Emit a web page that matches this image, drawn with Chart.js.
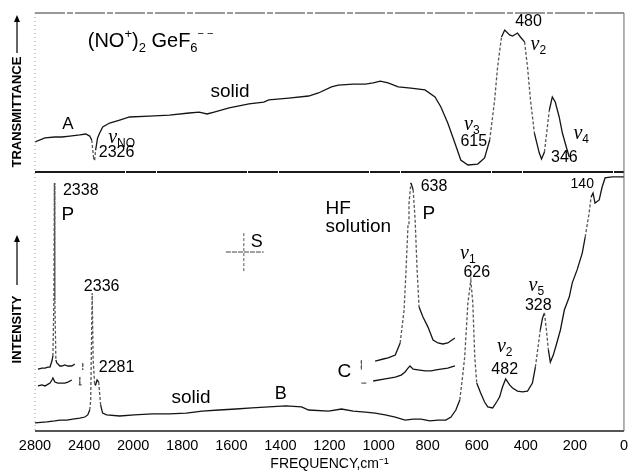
<!DOCTYPE html>
<html>
<head>
<meta charset="utf-8">
<script src="https://cdn.jsdelivr.net/npm/chart.js@4.4.1/dist/chart.umd.min.js"></script>
<style>
  html, body { margin: 0; padding: 0; background: #fff; }
  #wrap { width: 634px; height: 475px; }
</style>
</head>
<body>
<div id="wrap"><canvas id="spectrum" width="634" height="475"></canvas></div>
<script>
// tick positions on the recorder chart (2800-2000 is drawn at half scale)
const tickFreqs = [2800, 2400, 2000, 1800, 1600, 1400, 1200, 1000, 800, 600, 400, 200, 0];

// A: infrared transmittance of the solid
const irFreq = [2800,2719,2638,2581,2516,2435,2386,2354,2338,2322,2314,2306,2290,2273,2248,2192,2110,2030,1934,1853,1772,1731,1699,1670,1609,1528,1468,1447,1366,1285,1245,1192,1164,1103,1054,1022,993,961,920,868,811,770,746,718,689,665,636,596,568,547,527,515,499,486,466,454,434,422,405,393,381,365,345,336,324,304,292,280,264,251,235,223];
const irT = [18.9,21.4,22.0,22.0,22.6,23.3,23.9,22.6,20.1,8.8,7.5,13.8,21.4,24.5,28.3,30.8,32.7,34.6,35.2,35.8,37.1,37.7,36.5,37.7,40.3,42.8,44.0,45.3,46.5,47.8,49.7,53.5,54.7,55.3,55.3,56.0,57.2,56.0,53.5,52.8,51.6,47.2,40.9,30.8,18.2,7.5,4.4,5.0,8.8,20.1,45.3,66.0,84.9,89.3,86.2,85.5,87.4,84.9,81.8,66.0,45.3,24.5,11.9,8.2,12.6,39.0,47.2,44.0,34.6,24.5,15.7,9.4];

// B: Raman of the solid
const ramFreq = [2800,2703,2638,2597,2540,2492,2435,2394,2370,2354,2346,2334,2326,2314,2306,2294,2281,2265,2249,2216,2110,1995,1922,1853,1784,1719,1650,1581,1516,1447,1378,1314,1285,1204,1151,1103,1054,1014,973,932,892,859,827,791,758,726,705,685,669,657,649,636,624,616,608,600,584,568,555,535,519,507,495,482,466,454,434,414,393,373,361,349,341,332,324,316,308,300,288,276,259,243,223,211,191,170,158,142,134,126,118,101,89,77,49,0];
const ramI = [3.1,3.5,3.9,4.2,4.2,4.6,5.0,5.4,6.2,8.1,12.0,53.3,27.4,18.1,17.8,19.7,18.9,10.0,6.9,6.2,5.8,6.2,6.6,6.6,6.9,7.7,8.1,8.5,8.9,9.3,9.7,9.3,8.1,7.7,8.5,7.7,7.3,6.9,6.2,5.4,4.2,4.6,4.6,3.9,4.2,4.2,5.4,8.1,12.0,21.6,28.6,49.4,58.3,49.4,28.6,18.5,14.7,11.2,9.3,8.9,11.2,13.1,17.0,20.1,17.8,16.6,15.4,15.1,15.4,18.5,24.7,33.2,39.0,43.6,45.6,39.0,31.3,26.6,29.3,33.2,39.0,46.7,51.7,57.1,62.2,68.7,74.9,84.2,90.3,91.9,88.0,89.2,94.2,97.7,98.1,98.1];

// NO+ stretch inset, parallel (P) and perpendicular traces (pen offset positions)
const noParFreq = [2776,2743,2719,2695,2678,2662,2654,2646,2642,2638,2630,2622,2597,2581,2557,2532,2500,2476];
const noParI = [23.9,24.3,24.3,24.7,24.7,27.0,29.0,50.6,95.8,50.6,27.4,26.3,25.1,25.1,25.5,25.1,25.1,25.9];
const noPerFreq = [2776,2743,2719,2703,2678,2662,2654,2646,2638,2614,2581,2557,2532,2500];
const noPerI = [17.4,17.8,17.4,17.8,18.5,19.7,20.5,19.7,18.9,18.5,18.5,18.5,18.9,19.7];

// C: HF solution inset (pen offset positions)
const hfParFreq = [1014,981,961,932,912,896,888,880,876,868,859,851,843,835,819,799,778,758,738,718,689];
const hfParI = [27.0,27.8,28.2,29.3,34.0,46.7,62.2,79.5,88.0,95.8,93.1,81.5,62.2,47.9,44.0,40.2,35.1,34.0,33.6,34.0,35.9];
const hfPerFreq = [1022,973,932,908,892,880,872,859,839,811,786,766,746,718,689];
const hfPerI = [19.3,20.1,20.8,21.6,22.8,24.3,25.1,23.9,23.6,23.2,23.2,23.6,23.9,24.3,25.1];

// pen zero marks and the S sensitivity cross
const penMarks = [
  [[2411, 26.3], [2411, 23.6]],
  [[2435, 20.8], [2435, 17.8]],
  [[2443, 17.8], [2419, 17.8]],
  [[1070, 27.4], [1070, 23.6]],
  [[1070, 18.5], [1050, 18.5]]
];
const sCross = [
  [[1622, 69.1], [1468, 69.1]],
  [[1549, 76.4], [1549, 61.4]]
];

function pos(f) { return f > 2000 ? 2000 + (f - 2000) / 2 : f; }
function freqAt(p) { return p > 2000 ? 2000 + (p - 2000) * 2 : p; }

function pts(freqs, vals) { return freqs.map((f, i) => ({ x: pos(f), y: vals[i] })); }
function segs(list) {
  const out = [];
  list.forEach(s => {
    s.forEach(p => out.push({ x: pos(p[0]), y: p[1] }));
    out.push({ x: pos(s[1][0]), y: null });
  });
  return out;
}

const steep = c => Math.abs(c.p1.y - c.p0.y) > 4 * Math.abs(c.p1.x - c.p0.x) + 6;

function trace(data, axis, extra) {
  return Object.assign({
    data: data, yAxisID: axis, borderColor: '#141414', borderWidth: 1.3,
    pointRadius: 0, fill: false, tension: 0, spanGaps: false,
    segment: {
      borderDash: c => steep(c) ? [3, 2] : undefined,
      borderColor: c => steep(c) ? '#555' : undefined
    }
  }, extra || {});
}

const FONT = 'Liberation Sans';

function line(ctx, x1, y1, x2, y2, color, w, dash) {
  ctx.beginPath();
  ctx.strokeStyle = color; ctx.lineWidth = w; ctx.setLineDash(dash || []);
  ctx.moveTo(x1, y1); ctx.lineTo(x2, y2); ctx.stroke();
  ctx.setLineDash([]);
}

function text(ctx, s, x, y, size, align) {
  ctx.font = size + 'px "' + FONT + '"';
  ctx.textAlign = align || 'center';
  ctx.textBaseline = 'middle';
  ctx.fillText(s, x, y);
}

function nu(ctx, sub, x, y) {
  ctx.font = 'italic 20px "Liberation Serif"';
  const w1 = ctx.measureText('ν').width;
  ctx.font = '12px "' + FONT + '"';
  const w2 = ctx.measureText(sub).width;
  const x0 = x - (w1 + w2) / 2;
  ctx.textAlign = 'left'; ctx.textBaseline = 'middle';
  ctx.font = 'italic 20px "Liberation Serif"';
  ctx.fillText('ν', x0, y - 2);
  ctx.font = '12px "' + FONT + '"';
  ctx.fillText(sub, x0 + w1, y + 4);
}

const notesTop = [
  ['A', 2532, 30.2, 17], ['2326', 2135, 11.9, 16], ['solid', 1605, 50.3, 19],
  ['615', 612, 18.9, 16], ['480', 389, 94.3, 16], ['346', 243, 8.8, 16]
];
const nuTop = [['NO', 2094, 20.1], ['3', 620, 28.3], ['2', 349, 78.6], ['4', 174, 22.6]];
const notesBottom = [
  ['2338', 2427, 92.7, 16], ['P', 2532, 83.4, 19], ['2336', 2257, 55.6, 16],
  ['2281', 2135, 24.3, 16], ['S', 1496, 73.0, 18], ['solid', 1764, 12.7, 19],
  ['B', 1399, 14.3, 18], ['638', 774, 94.2, 16], ['P', 795, 83.8, 19],
  ['C', 1139, 22.8, 19], ['626', 600, 61.0, 16], ['482', 486, 23.9, 16],
  ['328', 349, 48.6, 16], ['140', 170, 95.4, 14]
];
const nuBottom = [['1', 636, 67.6], ['2', 486, 31.7], ['5', 357, 55.2]];

const decor = {
  id: 'decor',
  beforeDraw(chart) {
    const c = chart.ctx;
    c.save(); c.fillStyle = '#fff'; c.fillRect(0, 0, chart.width, chart.height); c.restore();
  },
  afterDatasetsDraw(chart) {
    const { ctx, chartArea: a, scales } = chart;
    const sx = scales.x, yT = scales.yT, yI = scales.yI;
    const mid = yT.bottom;
    ctx.save();
    line(ctx, a.left, a.top, a.right, a.top, '#333', 1.2, [30, 2, 6, 2]);
    line(ctx, a.left, mid, a.right, mid, '#1a1a1a', 2, [90, 1, 30, 1]);
    line(ctx, a.left, a.bottom, a.right, a.bottom, '#555', 1.8);
    line(ctx, a.left, a.top, a.left, a.bottom, '#999', 1, [1, 3]);
    line(ctx, a.right, a.top, a.right, a.bottom, '#666', 1);

    ctx.fillStyle = '#000';
    const X = f => sx.getPixelForValue(pos(f));
    notesTop.forEach(n => text(ctx, n[0], X(n[1]), yT.getPixelForValue(n[2]), n[3]));
    nuTop.forEach(n => nu(ctx, n[0], X(n[1]), yT.getPixelForValue(n[2])));
    notesBottom.forEach(n => text(ctx, n[0], X(n[1]), yI.getPixelForValue(n[2]), n[3]));
    nuBottom.forEach(n => nu(ctx, n[0], X(n[1]), yI.getPixelForValue(n[2])));
    text(ctx, 'HF', X(1216), yI.getPixelForValue(85.7), 19, 'left');
    text(ctx, 'solution', X(1216), yI.getPixelForValue(78.8), 19, 'left');

    // (NO+)2 GeF6--
    let x = X(2370);
    const base = yT.getPixelForValue(78.6);
    ctx.textAlign = 'left'; ctx.textBaseline = 'alphabetic';
    const piece = (s, size, dy) => {
      ctx.font = size + 'px "' + FONT + '"';
      ctx.fillText(s, x, base + dy);
      x += ctx.measureText(s).width;
    };
    piece('(NO', 20, 0); piece('+', 13, -9); piece(')', 20, 0); piece('2', 13, 5);
    piece(' GeF', 20, 0); piece('6', 13, 5); piece('− −', 11, -10);

    // rotated axis titles with arrows
    const side = (label, cy, a1, a2) => {
      ctx.save();
      ctx.translate(17, cy);
      ctx.rotate(-Math.PI / 2);
      ctx.font = 'bold 13px "' + FONT + '"';
      ctx.textAlign = 'center'; ctx.textBaseline = 'middle';
      ctx.fillText(label, 0, 0);
      ctx.restore();
      line(ctx, 17, a1, 17, a2 + 4, '#111', 1.3);
      ctx.beginPath();
      ctx.moveTo(17, a2); ctx.lineTo(14, a2 + 7); ctx.lineTo(20, a2 + 7); ctx.closePath();
      ctx.fill();
    };
    side('TRANSMITTANCE', yT.getPixelForValue(37.7), yT.getPixelForValue(74.8), yT.getPixelForValue(98.7));
    side('INTENSITY', yI.getPixelForValue(39.2), yI.getPixelForValue(56.4), yI.getPixelForValue(75.7));
    ctx.restore();
  }
};

const yBase = {
  type: 'linear', position: 'left', stack: 'panels', min: 0, max: 100,
  grid: { display: false, drawTicks: false }, border: { display: false },
  ticks: { display: false },
  afterFit: s => { s.width = 35; }
};

new Chart(document.getElementById('spectrum'), {
  type: 'line',
  data: {
    datasets: [
      trace(pts(irFreq, irT), 'yT'),
      trace(pts(ramFreq, ramI), 'yI'),
      trace(pts(noParFreq, noParI), 'yI'),
      trace(pts(noPerFreq, noPerI), 'yI'),
      trace(pts(hfParFreq, hfParI), 'yI'),
      trace(pts(hfPerFreq, hfPerI), 'yI'),
      trace(segs(penMarks), 'yI', { borderWidth: 1, borderColor: '#333' }),
      trace(segs(sCross), 'yI', { borderWidth: 1, borderColor: '#444', borderDash: [5, 1] })
    ]
  },
  options: {
    responsive: false, animation: false, devicePixelRatio: 1,
    layout: { padding: { top: 13, right: 7, left: 0, bottom: 0 } },
    plugins: { legend: { display: false }, tooltip: { enabled: false } },
    scales: {
      x: {
        type: 'linear', min: 0, max: 2400, reverse: true,
        grid: { display: false, drawTicks: false }, border: { display: false },
        afterBuildTicks: s => { s.ticks = tickFreqs.map(f => ({ value: pos(f) })); },
        ticks: {
          padding: 6, maxRotation: 0, autoSkip: false, color: '#000',
          font: { family: FONT, size: 14.5 },
          callback: v => freqAt(v)
        },
        title: {
          display: true, text: 'FREQUENCY,cm⁻¹', color: '#000',
          font: { family: FONT, size: 14 }, padding: { top: 0, bottom: 2 }
        },
        afterFit: s => { s.height = 44; }
      },
      yI: Object.assign({}, yBase, { stackWeight: 259 }),
      yT: Object.assign({}, yBase, { stackWeight: 159 })
    }
  },
  plugins: [decor]
});
</script>
</body>
</html>
